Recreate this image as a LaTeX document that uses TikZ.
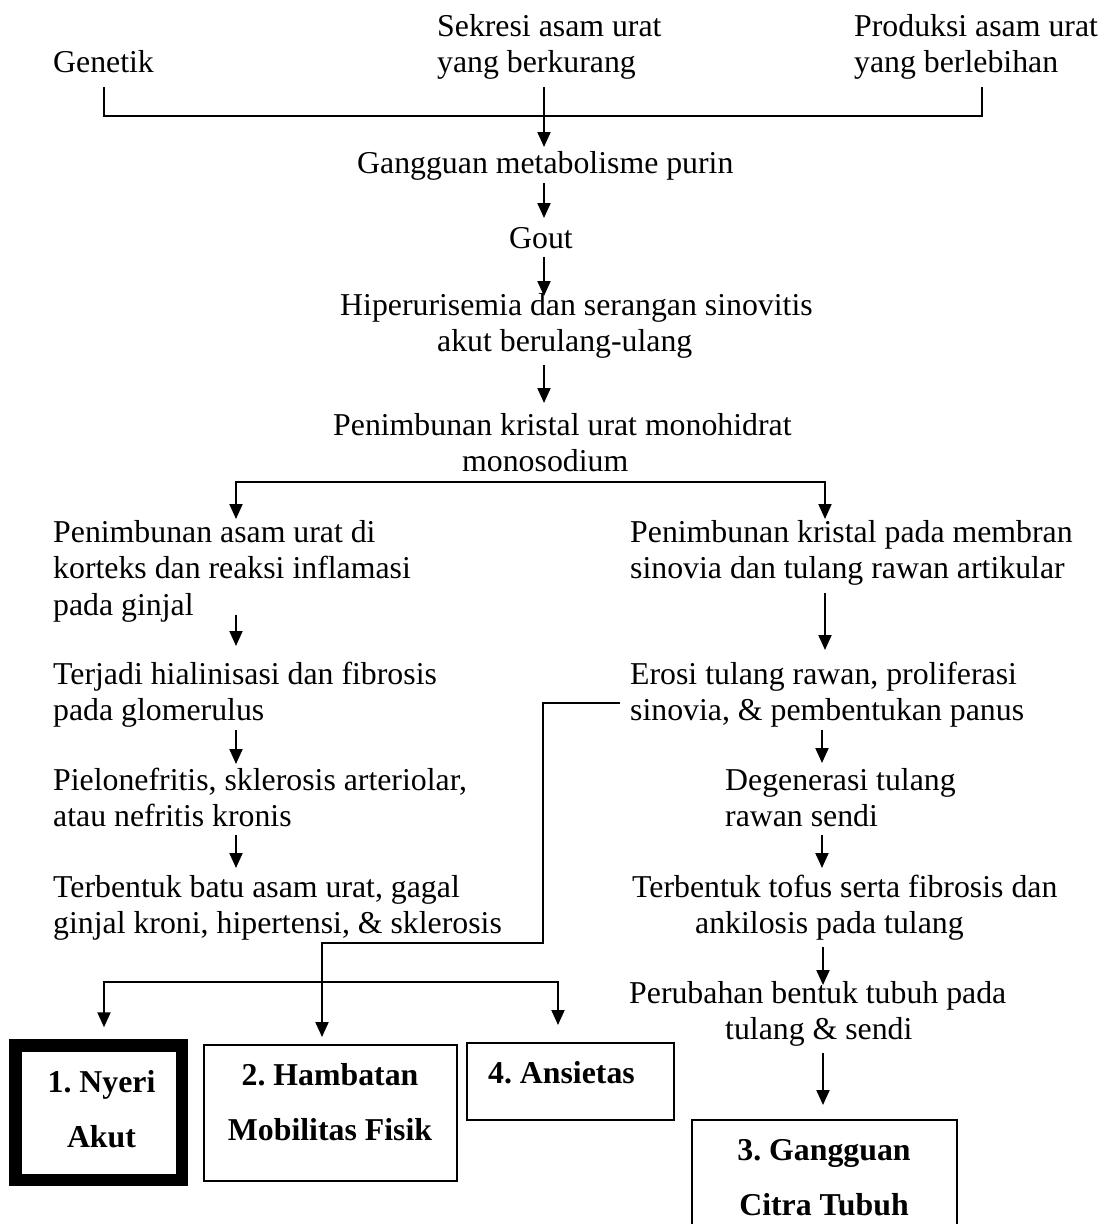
\documentclass[tikz,border=0pt]{standalone}
\usepackage{fontspec}
\setmainfont{Liberation Serif}
\usetikzlibrary{arrows.meta,calc}
\frenchspacing
\begin{document}
\begin{tikzpicture}[x=1pt,y=-1pt,
  txt/.style={inner sep=0pt, anchor=base west, font=\fontsize{31.8}{36.7}\selectfont\frenchspacing},
  bt/.style={inner sep=0pt, anchor=base, font=\fontsize{31.8}{55}\selectfont\bfseries\frenchspacing},
  ln/.style={line width=2pt},
  tip/.tip={Triangle[width=13pt,length=15pt]},
  arr/.style={line width=2pt, -tip},
  arrboth/.style={line width=2pt, tip-tip},
  box/.style={draw, line width=2pt, inner sep=0pt}]
\useasboundingbox (0,0) rectangle (1105,1224);
\clip (0,0) rectangle (1105,1224);
\fill[white] (0,0) rectangle (1105,1224);

% column coordinates
\coordinate (cM) at (544,0);
\coordinate (cL) at (236,0);
\coordinate (cR) at (825,0);
\coordinate (cR2) at (822,0);
\coordinate (cR3) at (823,0);

% top texts
\node[txt] (genetik) at (53,72) {Genetik};
\node[txt] (sekresi) at (437,36) {\begin{tabular}[t]{@{}l@{}}Sekresi asam urat\\yang berkurang\end{tabular}};
\node[txt] (produksi) at (854,36) {\begin{tabular}[t]{@{}l@{}}Produksi asam urat\\yang berlebihan\end{tabular}};
\node[txt] (gangguan) at (357,173) {Gangguan metabolisme purin};
\node[txt] (gout) at (509,248) {Gout};
\node[txt] (hiper) at (340,315) {\begin{tabular}[t]{@{}l@{}}Hiperurisemia dan serangan sinovitis\\\hspace*{97pt}akut berulang-ulang\end{tabular}};
\node[txt] (mono) at (333,435) {\begin{tabular}[t]{@{}l@{}}Penimbunan kristal urat monohidrat\\\hspace*{129pt}monosodium\end{tabular}};

% left column
\node[txt] (kiri1) at (53,542) {\begin{tabular}[t]{@{}l@{}}Penimbunan asam urat di\\korteks dan reaksi inflamasi\\pada ginjal\end{tabular}};
\node[txt] (kiri2) at (53,684) {\begin{tabular}[t]{@{}l@{}}Terjadi hialinisasi dan fibrosis\\pada glomerulus\end{tabular}};
\node[txt] (kiri3) at (53,790) {\begin{tabular}[t]{@{}l@{}}Pielonefritis, sklerosis arteriolar,\\atau nefritis kronis\end{tabular}};
\node[txt] (kiri4) at (53,897) {\begin{tabular}[t]{@{}l@{}}Terbentuk batu asam urat, gagal\\ginjal kroni, hipertensi, \& sklerosis\end{tabular}};

% right column
\node[txt] (kanan1) at (630,542) {\begin{tabular}[t]{@{}l@{}}Penimbunan kristal pada membran\\sinovia dan tulang rawan artikular\end{tabular}};
\node[txt] (kanan2) at (630,684) {\begin{tabular}[t]{@{}l@{}}Erosi tulang rawan, proliferasi\\sinovia, \& pembentukan panus\end{tabular}};
\node[txt] (kanan3) at (725,790) {\begin{tabular}[t]{@{}l@{}}Degenerasi tulang\\rawan sendi\end{tabular}};
\node[txt] (kanan4) at (632,897) {\begin{tabular}[t]{@{}l@{}}Terbentuk tofus serta fibrosis dan\\\hspace*{63pt}ankilosis pada tulang\end{tabular}};
\node[txt] (kanan5) at (629,1003) {\begin{tabular}[t]{@{}l@{}}Perubahan bentuk tubuh pada\\\hspace*{96pt}tulang \& sendi\end{tabular}};

% boxes
\node[box, line width=12.5pt, minimum width=166.5pt, minimum height=134.5pt] (b1) at (98.75,1112.75) {};
\node[box, minimum width=253pt, minimum height=136pt] (b2) at (330.5,1113) {};
\node[box, minimum width=207pt, minimum height=77pt] (b4) at (570.5,1081.5) {};
\node[box, minimum width=265pt, minimum height=130pt] (b3) at (824.5,1185) {};
\node[bt] (b1t) at (101.5,1092) {\begin{tabular}[t]{@{}c@{}}1. Nyeri\\Akut\end{tabular}};
\node[bt] (b2t) at (330,1085) {\begin{tabular}[t]{@{}c@{}}2. Hambatan\\Mobilitas Fisik\end{tabular}};
\node[bt] (b4t) at (561.5,1083) {4. Ansietas};
\node[bt] (b3t) at (824,1160) {\begin{tabular}[t]{@{}c@{}}3. Gangguan\\Citra Tubuh\end{tabular}};

% top bracket
\coordinate (brL) at (104,87);
\coordinate (brR) at (982,87);
\coordinate (brB) at (982,116);
\draw[ln] (brL) |- (brB) -- (brR);

% central chain
\draw[arr] ($(cM |- sekresi.base)+(0,51)$) -- ($(cM |- gangguan.base)+(0,-26)$);
\draw[arr] ($(cM |- gangguan.base)+(0,10)$) -- ($(cM |- gout.base)+(0,-30)$);
\draw[arr] ($(cM |- gout.base)+(0,9)$) -- ($(cM |- hiper.base)+(0,-19)$);
\draw[arr] ($(cM |- hiper.base)+(0,50)$) -- ($(cM |- mono.base)+(0,-32)$);

% split
\coordinate (sR) at (825,482);
\draw[arrboth] ($(cL |- kiri1.base)+(0,-23)$) |- (sR) -- ($(cR |- kanan1.base)+(0,-23)$);

% left chain
\draw[arr] ($(cL |- kiri1.base)+(0,73)$) -- ($(cL |- kiri2.base)+(0,-38)$);
\draw[arr] ($(cL |- kiri2.base)+(0,46)$) -- ($(cL |- kiri3.base)+(0,-26)$);
\draw[arr] ($(cL |- kiri3.base)+(0,45)$) -- ($(cL |- kiri4.base)+(0,-29)$);

% right chain
\draw[arr] ($(cR |- kanan1.base)+(0,51)$) -- ($(cR |- kanan2.base)+(0,-34)$);
\draw[arr] ($(cR2 |- kanan2.base)+(0,46)$) -- ($(cR2 |- kanan3.base)+(0,-27)$);
\draw[arr] ($(cR2 |- kanan3.base)+(0,45)$) -- ($(cR2 |- kanan4.base)+(0,-29)$);
\draw[arr] ($(cR3 |- kanan4.base)+(0,50)$) -- ($(cR3 |- kanan5.base)+(0,-18)$);
\draw[arr] ($(cR3 |- kanan5.base)+(0,50)$) -- ($(cR3 |- b3.north)+(0,-14)$);

% erosi connector to box 2
\coordinate (e1) at (543,943);
\draw[arr] ($(kanan2.base west)+(-10,19)$) -| (e1) -| ($(b2.north)+(-8.5,-7)$);

% bottom split to boxes 1 and 4
\coordinate (j4) at (558,982);
\draw[arrboth] ($(b1.north)+(5.25,-12)$) |- (j4) -- ($(b4.north)+(-12.5,-17)$);
\end{tikzpicture}
\end{document}
